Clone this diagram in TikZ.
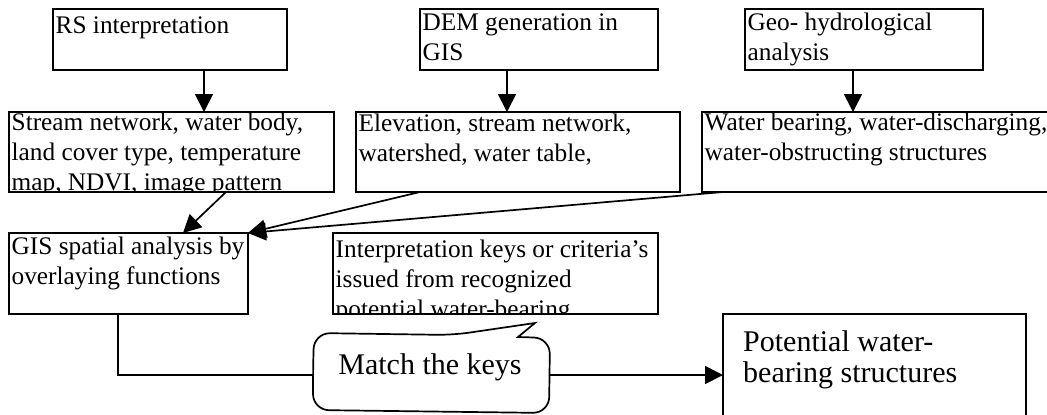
\documentclass[tikz,border=0pt]{standalone}
\usepackage{fontspec}
\setmainfont{Liberation Serif}
\usetikzlibrary{arrows.meta}
\begin{document}
\begin{tikzpicture}[x=1pt,y=-1pt,
  box/.style={draw,line width=1.7pt,inner sep=0pt,outer sep=0pt},
  txt/.style={anchor=north west,inner sep=0pt,align=left,font=\fontsize{25.3}{30}\selectfont,execute at begin node=\strut},
  bigtxt/.style={anchor=north west,inner sep=0pt,align=left,font=\fontsize{30}{31}\selectfont,execute at begin node=\strut},
  arr/.style={line width=1.7pt,-{Triangle[length=18pt,width=18pt]}}]
\useasboundingbox (0,0) rectangle (1047,415);
\fill[white] (0,0) rectangle (1047,415);

% boxes
\node[box,minimum width=234,minimum height=61] (rs) at (170,39.5) {};
\node[box,minimum width=238,minimum height=61] (dem) at (539,39.5) {};
\node[box,minimum width=238,minimum height=61] (geo) at (864,39.5) {};
\node[box,minimum width=325,minimum height=80] (stream) at (171.5,152) {};
\node[box,minimum width=324,minimum height=80] (elev) at (518,152) {};
\node[box,minimum width=358,minimum height=80] (wb) at (881,152) {};
\node[box,minimum width=239,minimum height=81] (gis) at (128.5,273.5) {};
\node[box,minimum width=325,minimum height=81] (interp) at (495.5,273.5) {};
\node[box,minimum width=303,minimum height=122] (pot) at (874.5,375) {};

% texts (clipped to their boxes)
\begin{scope}\clip (rs.south west) rectangle (rs.north east);
\node[txt] (rs-t) at ([shift={(2.5,3)}]rs.north west) {RS interpretation};\end{scope}
\begin{scope}\clip (dem.south west) rectangle (dem.north east);
\node[txt] (dem-t) at ([shift={(2.5,4.5)}]dem.north west) {DEM generation in\\GIS};\end{scope}
\begin{scope}\clip (geo.south west) rectangle (geo.north east);
\node[txt] (geo-t) at ([shift={(2.5,4)}]geo.north west) {Geo- hydrological\\analysis};\end{scope}
\begin{scope}\clip (stream.south west) rectangle (stream.north east);
\node[txt] (stream-t) at ([shift={(2.5,0.5)}]stream.north west) {Stream network, water body,\\land cover type, temperature\\map, NDVI, image pattern};\end{scope}
\begin{scope}\clip (elev.south west) rectangle (elev.north east);
\node[txt] (elev-t) at ([shift={(2.5,1.5)}]elev.north west) {Elevation, stream network,\\watershed, water table,};\end{scope}
\begin{scope}\clip (wb.south west) rectangle (wb.north east);
\node[txt] (wb-t) at ([shift={(2.5,0.5)}]wb.north west) {Water bearing, water-discharging,\\water-obstructing structures};\end{scope}
\begin{scope}\clip (gis.south west) rectangle (gis.north east);
\node[txt] (gis-t) at ([shift={(2.5,4)}]gis.north west) {GIS spatial analysis by\\overlaying functions};\end{scope}
\begin{scope}\clip (interp.south west) rectangle (interp.north east);
\node[txt] (interp-t) at ([shift={(2.5,7)}]interp.north west) {Interpretation keys or criteria’s\\issued from recognized\\potential water-bearing};\end{scope}
\node[bigtxt] (pot-t) at ([shift={(20,16.3)}]pot.north west) {Potential water-\\bearing structures};

% vertical arrows
\coordinate (rsout) at ([xshift=151]rs.south west);
\coordinate (demout) at ([xshift=87]dem.south west);
\coordinate (geoout) at ([xshift=108]geo.south west);
\draw[arr] (rsout) -- (rsout |- stream.north);
\draw[arr] (demout) -- (demout |- elev.north);
\draw[arr] (geoout) -- (geoout |- wb.north);

% converging arrows
\draw[arr] ([xshift=217]stream.south west) -- ([xshift=174]gis.north west);
\draw[arr] ([xshift=64]elev.south west) -- (gis.north east);
\draw[arr] ([xshift=21]wb.south west) -- (gis.north east);

% bottom connector
\coordinate (gisout) at ([xshift=109]gis.south west);
\draw[arr] (gisout) |- (pot.west);

% callout
\filldraw[fill=white,line width=1.7pt,rounded corners=16]
  (313,372) -- (314,333) -- (453,335) [sharp corners]-- (535,323) -- (518,337) [rounded corners=16]-- (550,338) -- (549,413) -- (313,410) -- cycle;
\node[font=\fontsize{30}{35}\selectfont,inner sep=0pt,anchor=base] (match) at (430,374) {Match the keys};
\end{tikzpicture}
\end{document}
